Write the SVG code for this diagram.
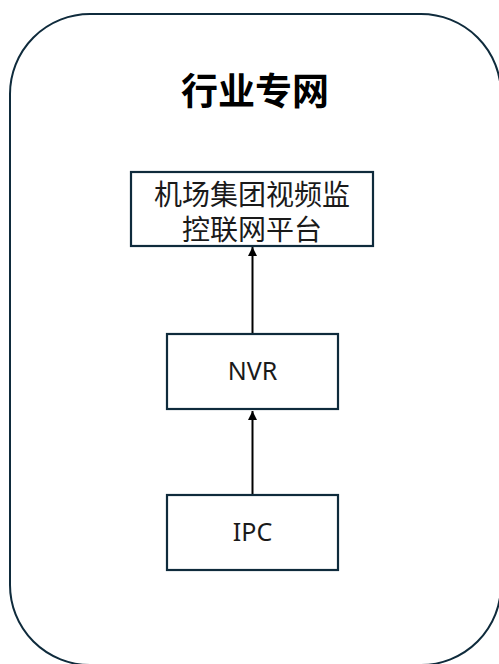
<svg xmlns="http://www.w3.org/2000/svg" width="499" height="664" viewBox="0 0 499 664">
  <style>
    .box { fill: #ffffff; stroke: #0f2b3c; stroke-width: 2.2; }
    .frame { fill: #ffffff; stroke: #0f2b3c; stroke-width: 2; }
    .lbl { font-family: "Noto Sans", "Noto Sans CJK SC", sans-serif; font-size: 25px; fill: #1a1a1a; text-anchor: middle; }
    .cjk { font-family: "Noto Sans CJK SC", sans-serif; font-size: 28px; fill: #1a1a1a; text-anchor: middle; }
    .title { font-family: "Noto Sans CJK SC", sans-serif; font-size: 37px; font-weight: bold; fill: #000000; text-anchor: middle; }
    .edge { stroke: #000000; stroke-width: 2; fill: none; }
  </style>
  <defs>
    <marker id="arrow" markerWidth="10" markerHeight="10" refX="9" refY="5" orient="auto" markerUnits="userSpaceOnUse">
      <path d="M0,0.5 L9,5 L0,9.5 Z" fill="#000000"/>
    </marker>
  </defs>
  <g id="frame">
    <rect class="frame" x="10" y="14" width="491" height="651" rx="80" ry="80"/>
    <text class="title" x="255" y="105">行业专网</text>
  </g>
  <g id="connectors">
    <line class="edge" x1="252.5" y1="495" x2="252.5" y2="411" marker-end="url(#arrow)"/>
    <line class="edge" x1="252.5" y1="334" x2="252.5" y2="247" marker-end="url(#arrow)"/>
  </g>
  <g id="platform">
    <rect class="box" x="131" y="172" width="242" height="74"/>
    <text class="cjk"><tspan x="252" y="205">机场集团视频监</tspan><tspan x="252" y="240">控联网平台</tspan></text>
  </g>
  <g id="nvr">
    <rect class="box" x="167" y="334" width="171" height="75"/>
    <text class="lbl" x="252.5" y="379.5">NVR</text>
  </g>
  <g id="ipc">
    <rect class="box" x="167" y="495" width="171" height="75"/>
    <text class="lbl" x="252.5" y="541">IPC</text>
  </g>
</svg>
